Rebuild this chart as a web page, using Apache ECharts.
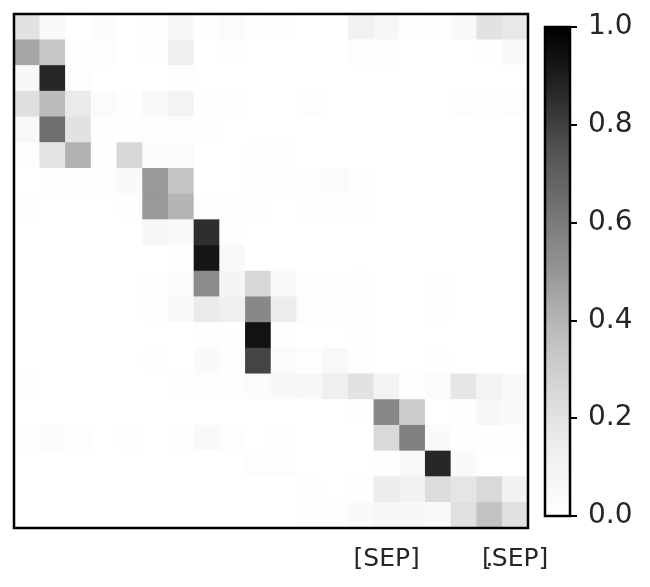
<!DOCTYPE html>
<html>
<head>
<meta charset="utf-8">
<script src="https://cdn.jsdelivr.net/npm/echarts@6/dist/echarts.min.js"></script>
<style>
  html, body { margin: 0; padding: 0; background: #fff; }
  #chart { width: 650px; height: 587px; }
</style>
</head>
<body>
<div id="chart"></div>
<script>
// token labels along the x axis (most are blank in the figure)
const xLabels = ['', '', '', '', '', '', '', '', '', '', '', '', '', '', '[SEP]', '', '', '', '.', '[SEP]']
const yLabels = xLabels.map((_, i) => String(i))

// attention weights, one row per query token (top to bottom)
const weights = [
  [0.20, 0.05, 0, 0.03, 0, 0.01, 0.07, 0.005, 0.03, 0.01, 0.02, 0, 0, 0.12, 0.07, 0.01, 0.02, 0.05, 0.20, 0.17],
  [0.45, 0.33, 0.01, 0.02, 0, 0.005, 0.13, 0, 0.005, 0, 0, 0, 0, 0.02, 0.02, 0, 0, 0, 0.01, 0.04],
  [0.07, 0.87, 0.02, 0, 0, 0, 0.005, 0, 0, 0, 0, 0, 0, 0, 0, 0, 0, 0, 0, 0],
  [0.22, 0.38, 0.16, 0.03, 0.01, 0.06, 0.10, 0.01, 0.005, 0, 0, 0.02, 0, 0, 0, 0, 0, 0.02, 0.005, 0.02],
  [0.06, 0.64, 0.20, 0.01, 0.01, 0.005, 0.02, 0.01, 0, 0, 0, 0, 0, 0, 0, 0, 0, 0, 0, 0],
  [0.01, 0.19, 0.41, 0.005, 0.26, 0.03, 0.03, 0, 0, 0.005, 0.02, 0, 0, 0, 0, 0, 0, 0, 0, 0],
  [0, 0.005, 0.01, 0.01, 0.04, 0.49, 0.34, 0, 0, 0.01, 0.02, 0.02, 0.03, 0.02, 0, 0, 0, 0, 0, 0],
  [0.02, 0, 0, 0, 0.01, 0.49, 0.40, 0.02, 0.01, 0.01, 0, 0.02, 0.02, 0.02, 0, 0, 0, 0, 0, 0],
  [0, 0, 0, 0, 0, 0.07, 0.05, 0.85, 0.005, 0, 0, 0, 0, 0, 0, 0, 0, 0, 0, 0],
  [0, 0, 0, 0, 0, 0, 0.005, 0.93, 0.05, 0, 0, 0, 0, 0, 0, 0, 0, 0, 0, 0],
  [0, 0, 0, 0, 0, 0.01, 0.03, 0.54, 0.08, 0.26, 0.04, 0.005, 0.005, 0.02, 0, 0, 0.01, 0, 0, 0],
  [0, 0, 0, 0, 0, 0.01, 0.04, 0.15, 0.125, 0.55, 0.14, 0.02, 0.005, 0.01, 0, 0, 0.01, 0, 0, 0],
  [0, 0, 0, 0, 0, 0, 0, 0.01, 0.005, 0.94, 0.02, 0, 0, 0.01, 0, 0, 0, 0, 0, 0],
  [0, 0, 0, 0, 0, 0.005, 0, 0.04, 0.01, 0.79, 0.03, 0.02, 0.06, 0.02, 0, 0, 0.005, 0, 0, 0],
  [0.02, 0, 0, 0, 0, 0, 0.02, 0.02, 0.02, 0.03, 0.07, 0.07, 0.13, 0.20, 0.10, 0.02, 0.03, 0.18, 0.10, 0.06],
  [0, 0, 0, 0, 0, 0, 0, 0, 0, 0, 0, 0, 0, 0.01, 0.55, 0.31, 0, 0.01, 0.07, 0.04],
  [0.01, 0.03, 0.02, 0, 0.01, 0, 0.01, 0.05, 0.02, 0, 0.02, 0, 0, 0, 0.25, 0.58, 0.04, 0.005, 0.01, 0.01],
  [0, 0, 0, 0, 0, 0, 0, 0, 0, 0.02, 0.02, 0, 0, 0, 0.01, 0.06, 0.87, 0.04, 0, 0],
  [0, 0, 0, 0, 0, 0, 0, 0, 0, 0, 0, 0.005, 0, 0.01, 0.14, 0.11, 0.235, 0.185, 0.25, 0.11],
  [0, 0, 0, 0, 0, 0, 0, 0, 0, 0, 0, 0.01, 0.01, 0.04, 0.07, 0.07, 0.04, 0.21, 0.35, 0.21],
]

const colorTicks = [0, 0.2, 0.4, 0.6, 0.8, 1.0]

// matplotlib "Greys"
const greys = ['#ffffff', '#f0f0f0', '#d9d9d9', '#bdbdbd', '#969696', '#737373', '#525252', '#252525', '#000000']

const cells = []
weights.forEach((row, r) => row.forEach((v, c) => cells.push([c, r, v])))

const chart = echarts.init(document.getElementById('chart'), null, { renderer: 'canvas' })
const font = 'DejaVu Sans'

chart.setOption({
  animation: false,
  grid: [
    { left: 14, top: 14, width: 514, height: 514, show: true, z: 10,
      backgroundColor: 'transparent', borderColor: '#000', borderWidth: 2.5 },
    { left: 545, top: 27, width: 25, height: 489, show: true, z: 10,
      backgroundColor: 'transparent', borderColor: '#000', borderWidth: 2.5 },
  ],
  xAxis: [
    {
      type: 'category', gridIndex: 0, data: xLabels,
      axisLine: { show: false }, axisTick: { show: false }, splitLine: { show: false },
      axisLabel: { interval: 0, color: '#262626', fontFamily: font, fontSize: 25, margin: 19 },
    },
    {
      type: 'category', gridIndex: 1, data: ['cb'],
      axisLine: { show: false }, axisTick: { show: false }, axisLabel: { show: false },
    },
  ],
  yAxis: [
    {
      type: 'category', gridIndex: 0, data: yLabels, inverse: true,
      axisLine: { show: false }, axisTick: { show: false }, axisLabel: { show: false },
      splitLine: { show: false },
    },
    {
      type: 'value', gridIndex: 1, position: 'right', min: 0, max: 1, interval: 0.2,
      axisLine: { show: false }, splitLine: { show: false },
      axisTick: { show: true, length: 7, lineStyle: { color: '#000', width: 2 } },
      axisLabel: {
        color: '#262626', fontFamily: font, fontSize: 28, margin: 18,
        formatter: v => v.toFixed(1),
      },
    },
  ],
  visualMap: {
    type: 'continuous', show: false, min: 0, max: 1, seriesIndex: 0,
    inRange: { color: greys },
  },
  series: [
    {
      type: 'heatmap', xAxisIndex: 0, yAxisIndex: 0, data: cells,
      emphasis: { disabled: true }, progressive: 0,
    },
    {
      type: 'bar', xAxisIndex: 1, yAxisIndex: 1, data: [colorTicks[colorTicks.length - 1]],
      barWidth: '100%', silent: true,
      itemStyle: {
        color: new echarts.graphic.LinearGradient(0, 1, 0, 0,
          greys.map((c, i) => ({ offset: i / (greys.length - 1), color: c }))),
      },
    },
  ],
})
</script>
</body>
</html>
